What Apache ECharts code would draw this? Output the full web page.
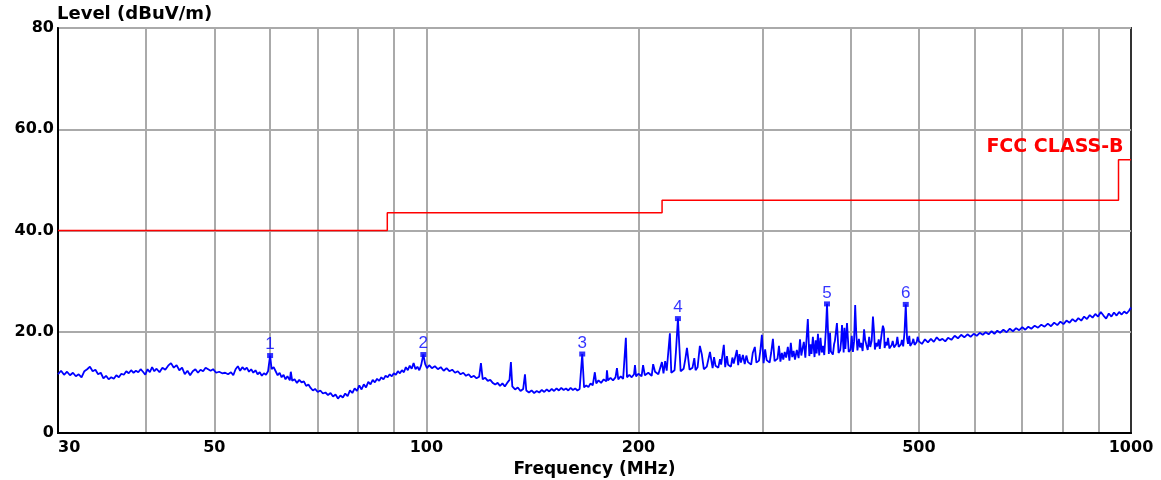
<!DOCTYPE html>
<html>
<head>
<meta charset="utf-8">
<script src="https://cdn.jsdelivr.net/npm/echarts@6/dist/echarts.min.js"></script>
<style>
html,body{margin:0;padding:0;background:#fff;}
#chart{width:1161px;height:480px;}
</style>
</head>
<body>
<div id="chart"></div>
<script>
// Measured trace: [frequency MHz, level dBuV/m]
const trace = [
[30.0,11.6],[30.3,12.3],[30.6,11.5],[30.9,12.1],[31.2,11.4],[31.5,11.9],[31.8,11.2],[32.1,11.6],[32.4,11.0],[32.7,12.2],
[33.0,12.6],[33.3,13.1],[33.6,12.2],[33.9,12.5],[34.2,11.6],[34.5,11.9],[34.8,10.8],[35.1,11.3],[35.4,10.6],[35.7,11.0],
[36.0,10.7],[36.3,11.4],[36.6,11.0],[36.9,11.7],[37.2,11.5],[37.5,12.2],[37.8,11.8],[38.1,12.4],[38.4,11.9],[38.7,12.3],
[39.0,12.0],[39.3,12.6],[39.6,12.1],[39.9,11.5],[40.2,12.6],[40.5,12.0],[40.8,13.0],[41.1,12.2],[41.4,12.7],[41.8,12.0],
[42.2,12.9],[42.6,12.5],[43.0,13.3],[43.4,13.8],[43.8,12.9],[44.2,13.4],[44.6,12.4],[45.0,12.9],[45.4,11.6],[45.8,12.3],
[46.2,11.4],[46.6,12.2],[47.0,12.6],[47.4,11.9],[47.8,12.5],[48.2,12.2],[48.6,12.9],[49.0,12.6],[49.4,12.3],[49.8,12.6],
[50.3,11.9],[50.8,12.1],[51.3,11.8],[51.8,11.9],[52.3,11.6],[52.8,12.0],[53.2,11.4],[53.6,12.6],[54.0,13.2],[54.4,12.3],
[54.8,13.0],[55.2,12.5],[55.6,12.9],[56.0,12.1],[56.4,12.6],[56.8,11.9],[57.2,12.4],[57.6,11.6],[58.0,12.0],[58.4,11.3],
[58.8,11.8],[59.2,11.5],[59.6,12.2],[60.0,15.3],[60.3,12.6],[60.7,13.0],[61.1,12.2],[61.5,11.4],[61.9,11.9],[62.3,11.0],
[62.7,11.5],[63.1,10.6],[63.5,11.2],[64.0,10.4],[64.2,12.1],[64.5,10.3],[65.0,10.6],[65.5,9.9],[66.0,10.5],[66.5,10.0],
[67.0,10.2],[67.5,9.3],[68.0,9.6],[68.5,8.9],[69.0,8.4],[69.5,8.7],[70.1,8.1],[70.7,8.4],[71.3,7.8],[71.9,8.0],
[72.5,7.5],[73.1,7.9],[73.7,7.2],[74.3,7.6],[74.9,6.8],[75.5,7.4],[76.1,7.0],[76.7,7.8],[77.3,7.3],[77.9,8.4],
[78.5,7.9],[79.1,8.8],[79.7,8.3],[80.3,9.4],[80.9,8.6],[81.5,9.6],[82.1,9.0],[82.7,10.1],[83.3,9.6],[83.9,10.5],
[84.5,10.0],[85.1,10.7],[85.7,10.3],[86.3,11.0],[86.9,10.6],[87.5,11.3],[88.1,11.0],[88.7,11.6],[89.3,11.2],[89.9,11.8],
[90.5,11.5],[91.1,12.2],[91.7,11.8],[92.3,12.4],[92.9,12.0],[93.5,13.0],[94.1,12.4],[94.7,13.3],[95.3,12.7],[95.9,13.8],
[96.5,12.6],[97.1,13.1],[97.7,12.4],[98.3,13.4],[99.0,15.5],[99.6,13.6],[100.2,12.8],[100.9,13.4],[101.8,12.8],[102.8,13.2],
[103.8,12.6],[104.8,13.0],[105.8,12.3],[106.8,12.8],[107.8,12.2],[108.8,12.5],[109.8,11.9],[110.8,12.2],[111.8,11.6],[112.8,11.9],
[113.8,11.3],[114.8,11.6],[115.8,11.0],[116.8,11.3],[117.8,10.8],[118.8,11.1],[119.5,13.8],[120.2,10.6],[121.2,10.9],[122.2,10.3],
[123.2,10.5],[124.2,9.9],[125.2,9.6],[126.2,9.9],[127.2,9.3],[128.2,9.8],[129.2,9.2],[130.2,9.9],[131.2,10.5],[131.8,14.0],
[132.4,9.2],[133.6,8.6],[134.8,9.0],[136.0,8.3],[137.2,8.7],[138.0,11.6],[138.6,8.4],[139.8,8.0],[141.0,8.4],[142.2,7.9],
[143.4,8.3],[144.6,8.0],[145.8,8.5],[147.0,8.1],[148.2,8.6],[149.4,8.2],[150.6,8.7],[151.8,8.3],[153.0,8.8],[154.2,8.4],
[155.4,8.9],[156.6,8.5],[157.8,8.8],[159.0,8.4],[160.2,8.9],[161.4,8.5],[162.6,8.8],[163.8,8.4],[165.0,8.7],[166.4,15.6],
[167.4,9.0],[168.6,9.4],[169.8,9.1],[171.0,9.8],[172.2,9.4],[173.4,12.0],[174.2,9.8],[175.5,10.4],[177.0,9.9],[178.5,10.6],
[180.0,10.2],[180.4,12.4],[181.0,10.4],[182.5,10.9],[184.0,10.4],[185.5,11.0],[186.4,12.8],[187.2,10.6],[188.7,11.2],[190.2,10.7],
[191.9,18.8],[192.6,11.0],[194.1,11.5],[195.6,11.0],[197.1,11.6],[197.7,13.4],[198.4,11.2],[199.9,11.7],[202.0,11.2],[203.0,13.4],
[204.2,11.4],[206.5,11.9],[208.8,11.3],[211.1,12.1],[213.4,11.6],[215.9,14.0],[217.0,11.8],[219.3,12.3],[221.6,19.7],[222.6,11.9],
[225.0,12.4],[227.5,22.6],[229.5,12.2],[231.8,12.7],[234.3,16.8],[236.3,12.5],[238.6,12.9],[241.0,12.4],[242.6,13.0],[244.4,17.2],
[247.6,12.6],[250.0,13.1],[252.6,16.0],[254.8,12.8],[257.2,13.3],[259.6,12.9],[262.0,13.5],[264.3,17.4],[265.5,13.0],[268.0,13.5],
[270.5,13.1],[273.0,13.7],[275.8,16.4],[277.0,13.4],[279.5,13.9],[281.3,15.4],[283.0,13.6],[286.0,14.0],[289.0,13.5],[292.5,17.0],
[294.0,13.9],[296.5,14.3],[299.3,19.4],[301.0,13.8],[304.0,14.4],[307.0,13.9],[310.3,18.6],[312.0,14.2],[315.0,14.7],[318.0,14.1],
[319.5,15.8],[321.0,14.5],[324.0,14.9],[325.8,17.0],[327.5,14.3],[330.5,15.0],[333.5,14.5],[335.5,16.4],[337.5,14.8],[340.5,15.3],
[343.3,18.0],[345.0,14.9],[347.8,22.5],[349.5,15.2],[352.0,15.6],[353.6,19.0],[355.5,15.0],[358.0,15.7],[359.5,19.6],[361.0,15.3],
[364.0,15.9],[367.0,15.4],[370.3,25.5],[372.5,15.6],[375.0,16.1],[377.5,15.5],[380.0,18.2],[382.5,21.7],[384.5,15.8],[386.7,16.4],
[388.9,21.3],[391.0,15.9],[393.2,16.6],[395.3,21.7],[397.5,16.0],[400.0,16.5],[403.0,16.0],[406.0,25.3],[409.0,16.3],[412.5,16.9],
[416.0,16.2],[419.5,18.4],[423.0,16.4],[426.5,17.0],[430.3,23.0],[433.0,16.5],[436.5,17.1],[440.0,16.6],[444.5,21.2],[447.0,16.8],
[450.5,17.3],[454.0,16.7],[457.5,17.4],[461.0,16.9],[464.5,17.6],[468.0,17.0],[471.5,17.5],[475.0,17.1],[479.0,25.4],[482.5,17.6],
[486.0,17.2],[489.5,17.9],[493.0,17.4],[496.5,18.0],[500.0,18.1],[505.0,17.6],[510.0,18.5],[515.0,17.9],[520.0,18.6],[525.0,18.0],
[530.0,18.9],[535.0,18.3],[540.0,18.6],[545.0,18.1],[550.0,18.8],[556.0,18.4],[562.0,19.2],[568.0,18.7],[574.0,19.4],[580.0,18.9],
[586.0,19.5],[592.0,19.0],[598.0,19.6],[604.0,19.2],[610.0,19.8],[616.0,19.4],[622.0,19.9],[628.0,19.5],[634.0,20.1],[640.0,19.6],
[646.0,20.2],[652.0,19.8],[659.0,20.4],[666.0,19.9],[673.0,20.6],[680.0,20.1],[687.0,20.7],[694.0,20.3],[701.0,20.9],[708.0,20.4],
[715.0,21.0],[722.0,20.6],[730.0,21.2],[738.0,20.8],[746.0,21.4],[754.0,21.0],[762.0,21.6],[770.0,21.1],[778.0,21.8],[786.0,21.3],
[794.0,22.0],[802.0,21.5],[810.0,22.2],[818.0,21.8],[826.0,22.5],[834.0,22.0],[842.0,22.7],[850.0,22.2],[858.0,23.0],[866.0,22.5],
[874.0,23.3],[882.0,22.8],[890.0,23.5],[898.0,23.0],[906.0,23.9],[914.0,23.2],[922.0,22.6],[930.0,23.6],[938.0,23.0],[946.0,23.8],
[954.0,23.2],[962.0,23.9],[970.0,23.4],[978.0,24.0],[986.0,23.6],[994.0,24.2],[1000.0,24.8]
];
// Additional narrow emissions seen between 200 and 500 MHz
const extraSpikes = [
[209.8,13.6],[218.2,14.2],[226.0,16.0],[233.0,14.5],[240.0,14.8],[246.0,15.5],[256.0,15.0],[261.0,14.6],[267.0,15.2],[271.8,14.9],
[278.2,15.6],[284.5,15.3],[290.5,15.8],[297.8,16.2],[302.5,16.5],[308.5,15.8],[316.5,17.2],[322.5,16.0],[329.0,17.8],[332.0,16.2],
[339.0,18.5],[342.0,16.8],[351.0,17.5],[356.8,18.3],[362.5,18.8],[365.5,17.2],[369.0,20.5],[374.0,19.8],[379.0,17.6],[383.5,19.0],
[387.8,18.2],[392.0,20.8],[396.5,18.6],[401.5,19.2],[404.5,18.0],[407.5,19.5],[411.0,18.6],[414.0,17.8],[418.0,20.5],[421.0,17.5],
[425.0,19.0],[428.5,18.2],[432.0,19.6],[435.0,17.8],[438.5,18.5],[442.5,19.4],[446.0,20.5],[449.0,18.0],[452.0,18.8],[459.0,18.2],
[466.0,19.0],[473.0,18.4],[477.0,19.8],[481.0,18.7],[484.5,19.2],[491.0,18.6],[498.0,19.0]
];
// FCC Class B limit (step line)
const limitFreq  = [30, 88, 88, 216, 216, 960, 960, 1000];
const limitLevel = [40, 40, 43.5, 43.5, 46, 46, 54, 54];
// Marked peaks
const markerNames = ['1','2','3','4','5','6'];
const markerFreq  = [60.0, 99.0, 166.4, 227.5, 370.3, 479.0];
const markerLevel = [15.3, 15.5, 15.6, 22.6, 25.5, 25.4];
// Axis ticks
const xGridTicks  = [40,50,60,70,80,90,100,200,300,400,500,600,700,800,900];
const xLabelTicks = [30,50,100,200,500,1000];
const limitName = 'FCC CLASS-B';

const traceData = trace.concat(extraSpikes).sort((a, b) => a[0] - b[0]);

const FONT = 'DejaVu Sans';
const chart = echarts.init(document.getElementById('chart'));
chart.setOption({
  animation: false,
  backgroundColor: '#fff',
  title: {
    text: 'Level (dBuV/m)', left: 52, top: 0,
    textStyle: {fontFamily: FONT, fontWeight: 'bold', fontSize: 18, color: '#000'}
  },
  grid: {left: 58, right: 30, top: 28, bottom: 47, show: true, borderColor: '#333', borderWidth: 2, outerBoundsMode: 'none', containLabel: false},
  xAxis: {
    type: 'log', logBase: 10, min: 30, max: 1000,
    name: 'Frequency (MHz)', nameLocation: 'middle', nameGap: 27,
    nameTextStyle: {fontFamily: FONT, fontWeight: 'bold', fontSize: 17, color: '#000'},
    axisLine: {show: true, lineStyle: {color: '#000', width: 2}},
    axisTick: {show: false, customValues: xGridTicks},
    splitLine: {show: true, lineStyle: {color: '#aaa', width: 2}},
    axisLabel: {customValues: xLabelTicks, formatter: v => String(Math.round(v)), fontFamily: FONT, fontWeight: 'bold', fontSize: 16, color: '#000', margin: 7, alignMinLabel: 'left', showMinLabel: true, showMaxLabel: true}
  },
  yAxis: {
    type: 'value', min: 0, max: 80, interval: 20,
    axisLine: {show: true, lineStyle: {color: '#000', width: 2}},
    axisTick: {show: false},
    splitLine: {show: true, lineStyle: {color: '#aaa', width: 2}},
    axisLabel: {
      fontFamily: FONT, fontWeight: 'bold', fontSize: 16, color: '#000', margin: 4,
      formatter: v => (v === 0 ? '0' : v === 80 ? '80' : v.toFixed(1))
    }
  },
  series: [
    {
      type: 'line', name: limitName,
      data: limitFreq.map((f, i) => [f, limitLevel[i]]),
      symbol: 'none', lineStyle: {color: '#ff0000', width: 1.5}, z: 3,
      markPoint: {
        symbol: 'circle', symbolSize: 0,
        data: [{coord: [960, 54]}],
        label: {show: true, formatter: limitName, position: [0, 0], align: 'right', verticalAlign: 'bottom', offset: [5, -3],
          fontFamily: FONT, fontWeight: 'bold', fontSize: 19, color: '#ff0000'}
      }
    },
    {
      type: 'line', name: 'Level', data: traceData, symbol: 'none',
      lineStyle: {color: '#0000ff', width: 1.8}, z: 4
    },
    {
      type: 'scatter', name: 'Markers',
      data: markerFreq.map((f, i) => ({value: [f, markerLevel[i]], name: markerNames[i]})),
      symbol: 'rect', symbolSize: [6, 5], itemStyle: {color: '#0000ff'}, z: 5,
      label: {show: true, position: 'top', distance: 0, formatter: p => p.name,
        fontFamily: 'Liberation Sans', fontSize: 17, color: '#0000ff'}
    }
  ]
});
</script>
</body>
</html>
